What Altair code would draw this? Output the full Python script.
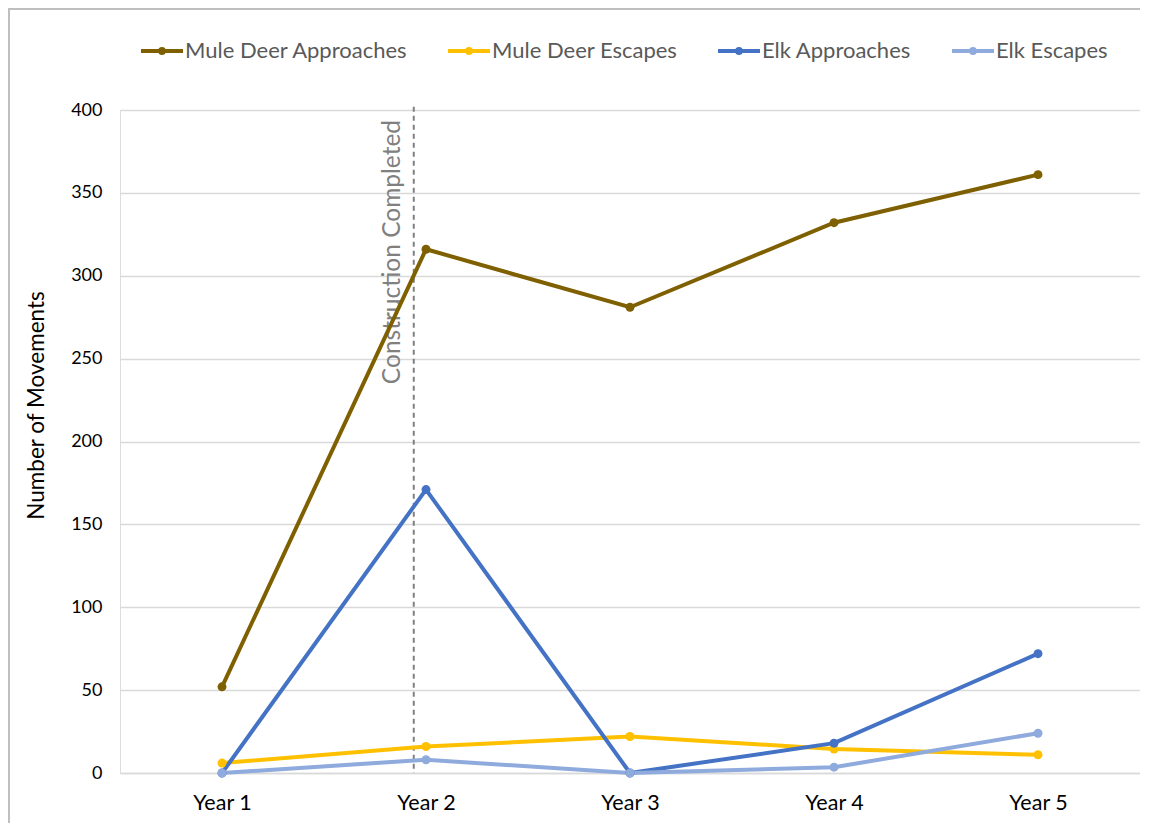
import altair as alt
import pandas as pd

years = [1, 2, 3, 4, 5]
year_labels = ["Year 1", "Year 2", "Year 3", "Year 4", "Year 5"]
series_names = ["Mule Deer Approaches", "Mule Deer Escapes", "Elk Approaches", "Elk Escapes"]
series_colors = ["#7F6000", "#FFC000", "#4472C4", "#8FAADC"]
mule_deer_approaches = [52, 316, 281, 332, 361]
mule_deer_escapes = [6, 16, 22, 14.5, 11]
elk_approaches = [0, 171, 0, 18, 72]
elk_escapes = [0, 8, 0, 3.5, 24]
construction_pos = [1.94]
construction_label = ["Construction Completed"]

rows = []
for name, vals in zip(series_names, [mule_deer_approaches, mule_deer_escapes, elk_approaches, elk_escapes]):
    for i, (yr, v) in enumerate(zip(years, vals)):
        rows.append({"year": yr, "label": year_labels[i], "series": name, "value": v})
df = pd.DataFrame(rows)
df["order"] = df["series"].map({n: i for i, n in enumerate(series_names)})

label_expr = "[" + ",".join("'" + l + "'" for l in year_labels) + "][datum.value - 1]"

x_enc = alt.X("year:Q", scale=alt.Scale(domain=[0.5, 5.5], nice=False, zero=False),
              axis=alt.Axis(values=years, labelExpr=label_expr, title=None, grid=False,
                            ticks=False, domain=True, domainColor="#D9D9D9", domainWidth=1.5,
                            labelFontSize=21.5, labelColor="#000000", labelPadding=19,
                            labelFont="Lato"))
y_enc = alt.Y("value:Q", scale=alt.Scale(domain=[0, 400], nice=False),
              axis=alt.Axis(values=list(range(0, 401, 50)), title="Number of Movements",
                            grid=True, gridColor="#D9D9D9", gridWidth=1.5, ticks=False,
                            domain=False, labelFontSize=18, labelColor="#000000",
                            labelPadding=18, titleFontSize=22.5, titleColor="#000000",
                            titleFontWeight="normal", titlePadding=22, titleY=295,
                            labelFont="Lato", titleFont="Lato"))

legend_path = ("M-1,0H1M-0.09,0a0.09,0.09 0 1,0 0.18,0a0.09,0.09 0 1,0 -0.18,0")

color_enc = alt.Color("series:N", sort=series_names,
                      scale=alt.Scale(domain=series_names, range=series_colors),
                      legend=alt.Legend(title=None, orient="none", legendX=19, legendY=-82,
                                        direction="horizontal", columns=4,
                                        symbolType=legend_path, symbolSize=1764,
                                        symbolStrokeWidth=4, labelFontSize=22,
                                        labelColor="#595959", labelFont="Lato",
                                        labelLimit=0, labelOffset=0, columnPadding=32,
                                        padding=0))

lines = alt.Chart(df).mark_line(strokeWidth=4).encode(
    x=x_enc, y=y_enc, color=color_enc, order=alt.Order("year:Q"))
points = alt.Chart(df).mark_circle(size=80, opacity=1).encode(
    x="year:Q", y="value:Q",
    color=alt.Color("series:N", sort=series_names, legend=None),
    order=alt.Order("order:Q"))

cdf = pd.DataFrame({"pos": construction_pos, "label": construction_label, "top": [402], "bottom": [0], "ty": [394]})
rule = alt.Chart(cdf).mark_rule(color="#808080", strokeWidth=2, strokeDash=[5, 4]).encode(
    x="pos:Q", y="top:Q", y2="bottom:Q")
text = alt.Chart(cdf).mark_text(angle=270, align="right", baseline="alphabetic", dy=-14,
                                fontSize=24.5, color="#808080", font="Lato").encode(
    x="pos:Q", y="ty:Q", text="label:N")

frame = alt.Chart(cdf).mark_rect(fill=None, stroke="#BFBFBF", strokeWidth=2).encode(
    x=alt.value(-111), x2=alt.value(1200), y=alt.value(-101), y2=alt.value(900))

chart = alt.layer(frame, rule, text, lines, points).properties(
    width=1020, height=663,
    autosize=alt.AutoSizeParams(type="none"),
    padding={"left": 112, "top": 102, "right": 0, "bottom": 50},
).configure_view(stroke=None).configure(background="#FFFFFF")

chart.save("out.html", embed_options={"renderer": "svg", "actions": False})
